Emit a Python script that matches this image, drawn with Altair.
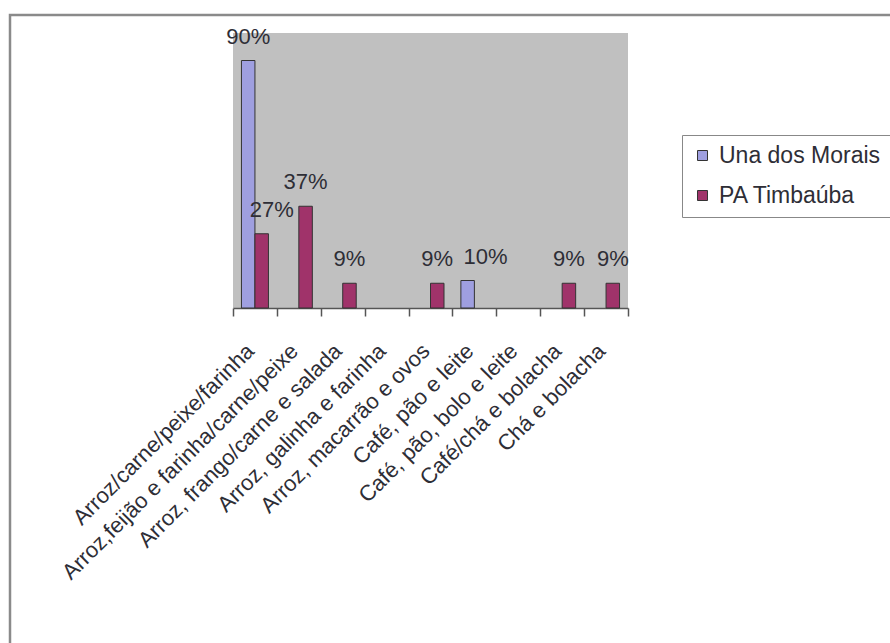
import altair as alt
import pandas as pd

# Refeições mais frequentes por comunidade (% das famílias)
categorias = [
    "Arroz/carne/peixe/farinha",
    "Arroz,feijão e farinha/carne/peixe",
    "Arroz, frango/carne e salada",
    "Arroz, galinha e farinha",
    "Arroz, macarrão e ovos",
    "Café, pão e leite",
    "Café, pão, bolo e leite",
    "Café/chá e bolacha",
    "Chá e bolacha",
]
series = ["Una dos Morais", "PA Timbaúba"]
una_dos_morais = [90, 0, 0, 0, 0, 10, 0, 0, 0]
pa_timbauba = [27, 37, 9, 0, 9, 0, 0, 9, 9]
cores = ["#9f9fe0", "#a0336a"]

linhas = []
for nome, valores in zip(series, [una_dos_morais, pa_timbauba]):
    for cat, v in zip(categorias, valores):
        linhas.append({"categoria": cat, "serie": nome, "valor": v})
df = pd.DataFrame(linhas)

FONT = "Liberation Sans"
TXT = "#2e2e36"

base = alt.Chart(df).transform_filter("datum.valor > 0")

x_enc = alt.X(
    "categoria:N",
    sort=categorias,
    scale=alt.Scale(domain=categorias, paddingInner=0, paddingOuter=0),
    axis=alt.Axis(
        title=None,
        labelAngle=-45,
        labelFontSize=22,
        labelColor=TXT,
        labelPadding=24,
        labelOffset=-12,
        labelLimit=400,
        tickBand="extent",
        tickSize=8,
        tickColor="#555555",
        tickWidth=1.5,
        domainColor="#555555",
        domainWidth=1.5,
        grid=False,
    ),
)
xoff_enc = alt.XOffset(
    "serie:N",
    sort=series,
    scale=alt.Scale(domain=series, paddingInner=0, paddingOuter=0.625),
)
y_enc = alt.Y("valor:Q", scale=alt.Scale(domain=[0, 100]), axis=None)

barras = base.mark_bar(stroke="#333333", strokeWidth=1).encode(
    x=x_enc,
    xOffset=xoff_enc,
    y=y_enc,
    color=alt.Color(
        "serie:N",
        sort=series,
        scale=alt.Scale(domain=series, range=cores),
        legend=alt.Legend(
            title=None,
            orient="none",
            legendX=449,
            legendY=102,
            symbolType="square",
            symbolSize=100,
            symbolStrokeColor="#333333",
            symbolStrokeWidth=1,
            labelFontSize=23,
            labelColor=TXT,
            labelOffset=5,
            labelLimit=400,
            rowPadding=16,
            padding=9,
            strokeColor="#888888",
            fillColor="#ffffff",
        ),
    ),
)


def rotulos(filtro, dx=0):
    return (
        base.transform_filter(filtro)
        .transform_calculate(rotulo="datum.valor + '%'")
        .mark_text(fontSize=22, color=TXT, baseline="alphabetic", dy=-17, dx=dx)
        .encode(x=x_enc, xOffset=xoff_enc, y=y_enc, text="rotulo:N")
    )


# the 27% and 10% labels are nudged right so they clear their neighbours
afastados = "(datum.serie == 'PA Timbaúba' && datum.categoria == 'Arroz/carne/peixe/farinha')"
afastados2 = "(datum.serie == 'Una dos Morais' && datum.categoria == 'Café, pão e leite')"
rot_normais = rotulos(f"!{afastados} && !{afastados2}")
rot_27 = rotulos(afastados, dx=10)
rot_10 = rotulos(afastados2, dx=18)

moldura = alt.Chart(pd.DataFrame({"m": [0]})).mark_rect(
    fillOpacity=0, stroke="#8a8a8a", strokeWidth=2.5
).encode(
    x=alt.value(-223), x2=alt.value(700), y=alt.value(-18), y2=alt.value(700)
)

chart = (
    alt.layer(moldura, barras, rot_normais, rot_27, rot_10)
    .properties(
        width=395,
        height=275,
        autosize=alt.AutoSizeParams(type="none"),
        padding={"left": 233, "top": 33, "right": 262, "bottom": 335},
    )
    .configure(font=FONT)
    .configure_view(fill="#c0c0c0", strokeWidth=0)
)

chart.save("out.html", embed_options={"renderer": "svg", "actions": False})
